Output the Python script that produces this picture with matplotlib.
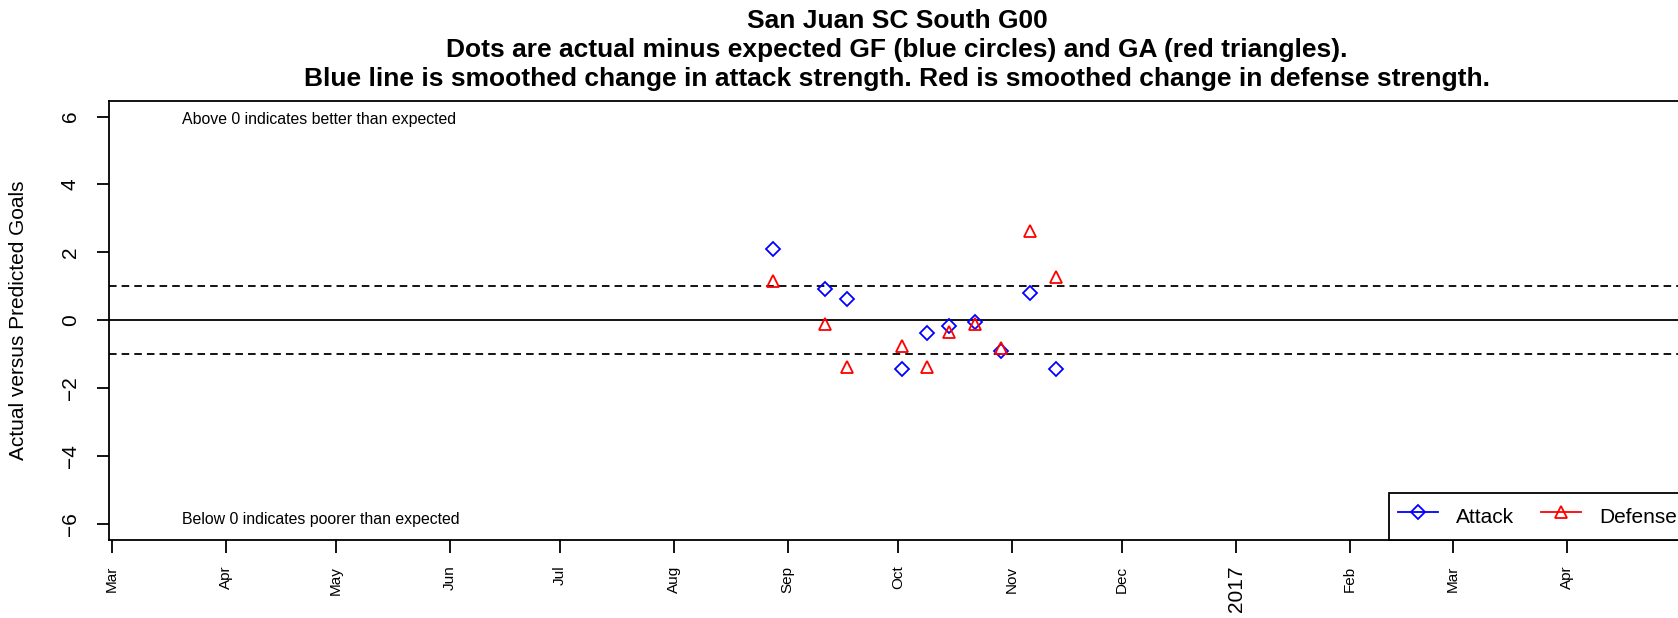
import datetime as dt
import matplotlib
matplotlib.use("Agg")
import matplotlib.pyplot as plt
from matplotlib.lines import Line2D

plt.rcParams['font.family'] = ['Liberation Sans', 'DejaVu Sans']

# game dates and actual minus expected goals
game_dates = [dt.date(2016, 8, 28), dt.date(2016, 9, 11), dt.date(2016, 9, 17),
              dt.date(2016, 10, 2), dt.date(2016, 10, 9), dt.date(2016, 10, 15),
              dt.date(2016, 10, 22), dt.date(2016, 10, 29), dt.date(2016, 11, 6),
              dt.date(2016, 11, 13)]
attack = [2.09, 0.93, 0.61, -1.44, -0.38, -0.18, -0.06, -0.90, 0.81, -1.44]
defense = [1.16, -0.12, -1.37, -0.75, -1.37, -0.35, -0.11, -0.82, 2.64, 1.26]

# x axis ticks
tick_dates = [dt.date(2016, m, 1) for m in range(3, 13)] + \
             [dt.date(2017, m, 1) for m in range(1, 5)]
tick_labels = ["Mar", "Apr", "May", "Jun", "Jul", "Aug", "Sep", "Oct", "Nov", "Dec",
               "2017", "Feb", "Mar", "Apr"]
y_ticks = [-6, -4, -2, 0, 2, 4, 6]

title = ("San Juan SC South G00\n"
         "Dots are actual minus expected GF (blue circles) and GA (red triangles).\n"
         "Blue line is smoothed change in attack strength. Red is smoothed change in defense strength.")

W, H = 1678, 618
fig = plt.figure(figsize=(W / 100, H / 100), dpi=100)
ax = fig.add_axes([109 / W, 78 / H, (1685 - 109) / W, (540 - 101) / H])

# reference lines
ax.axhline(0, color="black", lw=1.3)
ax.axhline(1, color="black", lw=1.3, linestyle=(0, (4.2, 2.8)))
ax.axhline(-1, color="black", lw=1.3, linestyle=(0, (4.2, 2.8)))

ax.plot(game_dates, attack, linestyle="none", marker="D", ms=7.2, mfc="none",
        mec="blue", mew=1.3)
ax.plot(game_dates, defense, linestyle="none", marker="^", ms=9, mfc="none",
        mec="red", mew=1.3)

ax.set_xlim(dt.datetime(2016, 2, 29, 6), dt.datetime(2017, 5, 3, 5))
ax.set_ylim(-6.48, 6.46)

ax.set_xticks(tick_dates)
ax.set_xticklabels(tick_labels, rotation=90)
for lab in ax.get_xticklabels():
    lab.set_fontsize(15 if lab.get_text() == "2017" else 11)
ax.set_yticks(y_ticks)
ax.set_yticklabels([str(v).replace("-", "\u2212") for v in y_ticks], rotation=90,
                   va="center", fontsize=15)
ax.tick_params(axis="x", length=9.5, width=1.3, pad=9)
ax.tick_params(axis="y", length=9, width=1.3, pad=12)
for s in ax.spines.values():
    s.set_linewidth(1.3)

ax.set_ylabel("Actual versus Predicted Goals", fontsize=15)
ax.yaxis.label.set_va("center")
ax.yaxis.set_label_coords((18 - 109) / (1685 - 109), 0.5)

ax.text(dt.date(2016, 3, 20), 5.92, "Above 0 indicates better than expected",
        fontsize=11.4, ha="left", va="center")
ax.text(dt.date(2016, 3, 20), -5.88, "Below 0 indicates poorer than expected",
        fontsize=11.4, ha="left", va="center")

fig.text((109 + 1685) / 2 / W, 1 - 9 / H, title, ha="center", va="top",
         fontsize=19, fontweight="bold", linespacing=1.26)

handles = [Line2D([], [], color="blue", lw=1.3, marker="D", ms=7.2, mfc="none", mew=1.3),
           Line2D([], [], color="red", lw=1.3, marker="^", ms=9, mfc="none", mew=1.3)]
leg = ax.legend(handles, ["Attack", "Defense"], loc="lower right", bbox_to_anchor=(1, 0),
                ncol=2, fontsize=15, frameon=True, fancybox=False, framealpha=1,
                borderaxespad=0, handlelength=1.92, handletextpad=0.86,
                columnspacing=1.3, handleheight=1.9, borderpad=0.4)
leg.get_frame().set_edgecolor("black")
leg.get_frame().set_linewidth(1.3)

fig.savefig("out.png", dpi=100)
